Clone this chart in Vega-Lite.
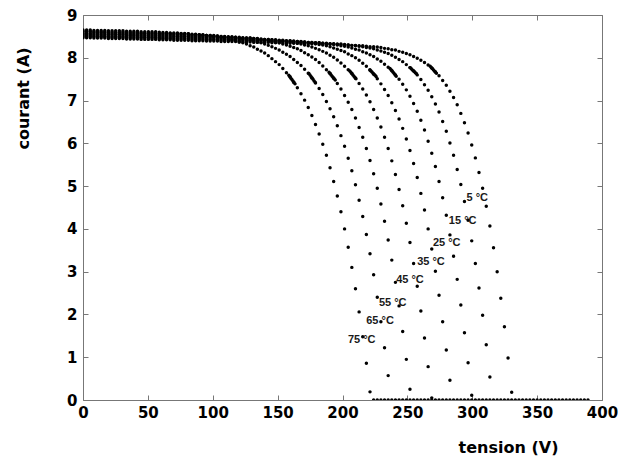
{
"$schema": "https://vega.github.io/schema/vega-lite/v6.json",
"width": 519, "height": 385,
"autosize": "none",
"padding": {"left": 83, "top": 15, "right": 16, "bottom": 58},
"background": "white",
"config": {"view": {"stroke": null}, "font": "DejaVu Sans"},
"layer": [
{
"data": {"values": [
{"T":5,"V":0,"I":8.47},{"T":5,"V":2.8,"I":8.47},{"T":5,"V":5.6,"I":8.47},{"T":5,"V":8.4,"I":8.46},{"T":5,"V":11.2,"I":8.46},{"T":5,"V":14,"I":8.46},{"T":5,"V":16.8,"I":8.46},{"T":5,"V":19.6,"I":8.45},{"T":5,"V":22.4,"I":8.45},{"T":5,"V":25.2,"I":8.45},{"T":5,"V":28,"I":8.45},{"T":5,"V":30.8,"I":8.45},{"T":5,"V":33.6,"I":8.44},{"T":5,"V":36.4,"I":8.44},{"T":5,"V":39.2,"I":8.44},{"T":5,"V":42,"I":8.44},{"T":5,"V":44.8,"I":8.43},{"T":5,"V":47.6,"I":8.43},{"T":5,"V":50.4,"I":8.43},{"T":5,"V":53.2,"I":8.43},{"T":5,"V":56,"I":8.43},{"T":5,"V":58.8,"I":8.42},{"T":5,"V":61.6,"I":8.42},{"T":5,"V":64.4,"I":8.42},{"T":5,"V":67.2,"I":8.42},{"T":5,"V":70,"I":8.41},{"T":5,"V":72.8,"I":8.41},{"T":5,"V":75.6,"I":8.41},{"T":5,"V":78.4,"I":8.41},{"T":5,"V":81.2,"I":8.41},{"T":5,"V":84,"I":8.40},{"T":5,"V":86.8,"I":8.40},{"T":5,"V":89.6,"I":8.40},{"T":5,"V":92.4,"I":8.40},{"T":5,"V":95.2,"I":8.39},{"T":5,"V":98,"I":8.39},{"T":5,"V":100.8,"I":8.39},{"T":5,"V":103.6,"I":8.39},{"T":5,"V":106.4,"I":8.38},{"T":5,"V":109.2,"I":8.38},{"T":5,"V":112,"I":8.38},{"T":5,"V":114.8,"I":8.38},{"T":5,"V":117.6,"I":8.38},{"T":5,"V":120.4,"I":8.37},{"T":5,"V":123.2,"I":8.37},{"T":5,"V":126,"I":8.37},{"T":5,"V":128.8,"I":8.37},{"T":5,"V":131.6,"I":8.36},{"T":5,"V":134.4,"I":8.36},{"T":5,"V":137.2,"I":8.36},{"T":5,"V":140,"I":8.36},{"T":5,"V":142.8,"I":8.36},{"T":5,"V":145.6,"I":8.35},{"T":5,"V":148.4,"I":8.35},{"T":5,"V":151.2,"I":8.35},{"T":5,"V":154,"I":8.35},{"T":5,"V":156.8,"I":8.34},{"T":5,"V":159.6,"I":8.34},{"T":5,"V":162.4,"I":8.34},{"T":5,"V":165.2,"I":8.34},{"T":5,"V":168,"I":8.34},{"T":5,"V":170.8,"I":8.33},{"T":5,"V":173.6,"I":8.33},{"T":5,"V":176.4,"I":8.33},{"T":5,"V":179.2,"I":8.33},{"T":5,"V":182,"I":8.32},{"T":5,"V":184.8,"I":8.32},{"T":5,"V":187.6,"I":8.32},{"T":5,"V":190.4,"I":8.32},{"T":5,"V":193.2,"I":8.32},{"T":5,"V":196,"I":8.31},
{"T":5,"V":198.8,"I":8.31},{"T":5,"V":201.6,"I":8.30},{"T":5,"V":204.4,"I":8.30},{"T":5,"V":207.2,"I":8.29},{"T":5,"V":210,"I":8.29},{"T":5,"V":212.8,"I":8.28},{"T":5,"V":215.6,"I":8.28},{"T":5,"V":218.4,"I":8.27},{"T":5,"V":221.2,"I":8.26},{"T":5,"V":224,"I":8.26},{"T":5,"V":226.8,"I":8.25},{"T":5,"V":229.6,"I":8.24},{"T":5,"V":232.4,"I":8.22},{"T":5,"V":235.2,"I":8.21},{"T":5,"V":238,"I":8.19},{"T":5,"V":240.8,"I":8.18},{"T":5,"V":243.6,"I":8.15},{"T":5,"V":246.4,"I":8.13},{"T":5,"V":249.2,"I":8.10},{"T":5,"V":252,"I":8.07},{"T":5,"V":254.8,"I":8.03},{"T":5,"V":257.6,"I":7.99},{"T":5,"V":260.4,"I":7.94},{"T":5,"V":263.2,"I":7.89},{"T":5,"V":266,"I":7.83},{"T":5,"V":268.8,"I":7.76},{"T":5,"V":271.6,"I":7.67},{"T":5,"V":274.4,"I":7.58},{"T":5,"V":277.2,"I":7.47},{"T":5,"V":280,"I":7.36},{"T":5,"V":282.8,"I":7.22},{"T":5,"V":285.6,"I":7.07},{"T":5,"V":288.4,"I":6.90},{"T":5,"V":291.2,"I":6.70},{"T":5,"V":294,"I":6.48},{"T":5,"V":296.8,"I":6.24},{"T":5,"V":299.6,"I":5.96},{"T":5,"V":302.4,"I":5.66},{"T":5,"V":305.2,"I":5.32},{"T":5,"V":308,"I":4.95},{"T":5,"V":310.8,"I":4.53},{"T":5,"V":313.6,"I":4.07},{"T":5,"V":316.4,"I":3.56},{"T":5,"V":319.2,"I":3.00},{"T":5,"V":322,"I":2.38},{"T":5,"V":324.8,"I":1.71},{"T":5,"V":327.6,"I":0.98},{"T":5,"V":330.4,"I":0.18},
{"T":5,"V":267.6,"I":7.80},{"T":5,"V":268.4,"I":7.77},{"T":5,"V":269.2,"I":7.75},{"T":5,"V":270,"I":7.72},{"T":5,"V":270.8,"I":7.69},{"T":5,"V":271.6,"I":7.67},{"T":5,"V":272.4,"I":7.64},
{"T":15,"V":0,"I":8.50},{"T":15,"V":2.8,"I":8.50},{"T":15,"V":5.6,"I":8.50},{"T":15,"V":8.4,"I":8.49},{"T":15,"V":11.2,"I":8.49},{"T":15,"V":14,"I":8.49},{"T":15,"V":16.8,"I":8.49},{"T":15,"V":19.6,"I":8.48},{"T":15,"V":22.4,"I":8.48},{"T":15,"V":25.2,"I":8.48},{"T":15,"V":28,"I":8.48},{"T":15,"V":30.8,"I":8.48},{"T":15,"V":33.6,"I":8.47},{"T":15,"V":36.4,"I":8.47},{"T":15,"V":39.2,"I":8.47},{"T":15,"V":42,"I":8.47},{"T":15,"V":44.8,"I":8.46},{"T":15,"V":47.6,"I":8.46},{"T":15,"V":50.4,"I":8.46},{"T":15,"V":53.2,"I":8.46},{"T":15,"V":56,"I":8.46},{"T":15,"V":58.8,"I":8.45},{"T":15,"V":61.6,"I":8.45},{"T":15,"V":64.4,"I":8.45},{"T":15,"V":67.2,"I":8.45},{"T":15,"V":70,"I":8.44},{"T":15,"V":72.8,"I":8.44},{"T":15,"V":75.6,"I":8.44},{"T":15,"V":78.4,"I":8.44},{"T":15,"V":81.2,"I":8.44},{"T":15,"V":84,"I":8.43},{"T":15,"V":86.8,"I":8.43},{"T":15,"V":89.6,"I":8.43},{"T":15,"V":92.4,"I":8.43},{"T":15,"V":95.2,"I":8.42},{"T":15,"V":98,"I":8.42},{"T":15,"V":100.8,"I":8.42},{"T":15,"V":103.6,"I":8.42},{"T":15,"V":106.4,"I":8.41},{"T":15,"V":109.2,"I":8.41},{"T":15,"V":112,"I":8.41},{"T":15,"V":114.8,"I":8.41},{"T":15,"V":117.6,"I":8.41},{"T":15,"V":120.4,"I":8.40},{"T":15,"V":123.2,"I":8.40},{"T":15,"V":126,"I":8.40},{"T":15,"V":128.8,"I":8.40},{"T":15,"V":131.6,"I":8.39},{"T":15,"V":134.4,"I":8.39},{"T":15,"V":137.2,"I":8.39},{"T":15,"V":140,"I":8.39},{"T":15,"V":142.8,"I":8.39},{"T":15,"V":145.6,"I":8.38},{"T":15,"V":148.4,"I":8.38},{"T":15,"V":151.2,"I":8.38},{"T":15,"V":154,"I":8.38},{"T":15,"V":156.8,"I":8.37},{"T":15,"V":159.6,"I":8.37},{"T":15,"V":162.4,"I":8.37},{"T":15,"V":165.2,"I":8.37},{"T":15,"V":168,"I":8.37},{"T":15,"V":170.8,"I":8.36},{"T":15,"V":173.6,"I":8.36},{"T":15,"V":176.4,"I":8.36},
{"T":15,"V":179.2,"I":8.35},{"T":15,"V":182,"I":8.35},{"T":15,"V":184.8,"I":8.34},{"T":15,"V":187.6,"I":8.34},{"T":15,"V":190.4,"I":8.33},{"T":15,"V":193.2,"I":8.33},{"T":15,"V":196,"I":8.32},{"T":15,"V":198.8,"I":8.32},{"T":15,"V":201.6,"I":8.31},{"T":15,"V":204.4,"I":8.30},{"T":15,"V":207.2,"I":8.29},{"T":15,"V":210,"I":8.28},{"T":15,"V":212.8,"I":8.27},{"T":15,"V":215.6,"I":8.26},{"T":15,"V":218.4,"I":8.24},{"T":15,"V":221.2,"I":8.23},{"T":15,"V":224,"I":8.21},{"T":15,"V":226.8,"I":8.18},{"T":15,"V":229.6,"I":8.16},{"T":15,"V":232.4,"I":8.13},{"T":15,"V":235.2,"I":8.10},{"T":15,"V":238,"I":8.06},{"T":15,"V":240.8,"I":8.01},{"T":15,"V":243.6,"I":7.96},{"T":15,"V":246.4,"I":7.91},{"T":15,"V":249.2,"I":7.84},{"T":15,"V":252,"I":7.77},{"T":15,"V":254.8,"I":7.69},{"T":15,"V":257.6,"I":7.60},{"T":15,"V":260.4,"I":7.49},{"T":15,"V":263.2,"I":7.37},{"T":15,"V":266,"I":7.24},{"T":15,"V":268.8,"I":7.09},{"T":15,"V":271.6,"I":6.92},{"T":15,"V":274.4,"I":6.73},{"T":15,"V":277.2,"I":6.51},{"T":15,"V":280,"I":6.28},{"T":15,"V":282.8,"I":6.01},{"T":15,"V":285.6,"I":5.72},{"T":15,"V":288.4,"I":5.39},{"T":15,"V":291.2,"I":5.04},{"T":15,"V":294,"I":4.64},{"T":15,"V":296.8,"I":4.20},{"T":15,"V":299.6,"I":3.72},{"T":15,"V":302.4,"I":3.19},{"T":15,"V":305.2,"I":2.62},{"T":15,"V":308,"I":1.98},{"T":15,"V":310.8,"I":1.29},{"T":15,"V":313.6,"I":0.54},
{"T":15,"V":252.1,"I":7.77},{"T":15,"V":252.9,"I":7.75},{"T":15,"V":253.7,"I":7.72},{"T":15,"V":254.5,"I":7.70},{"T":15,"V":255.3,"I":7.68},{"T":15,"V":256.1,"I":7.65},{"T":15,"V":256.9,"I":7.63},
{"T":25,"V":0,"I":8.52},{"T":25,"V":2.8,"I":8.52},{"T":25,"V":5.6,"I":8.52},{"T":25,"V":8.4,"I":8.51},{"T":25,"V":11.2,"I":8.51},{"T":25,"V":14,"I":8.51},{"T":25,"V":16.8,"I":8.51},{"T":25,"V":19.6,"I":8.50},{"T":25,"V":22.4,"I":8.50},{"T":25,"V":25.2,"I":8.50},{"T":25,"V":28,"I":8.50},{"T":25,"V":30.8,"I":8.50},{"T":25,"V":33.6,"I":8.49},{"T":25,"V":36.4,"I":8.49},{"T":25,"V":39.2,"I":8.49},{"T":25,"V":42,"I":8.49},{"T":25,"V":44.8,"I":8.48},{"T":25,"V":47.6,"I":8.48},{"T":25,"V":50.4,"I":8.48},{"T":25,"V":53.2,"I":8.48},{"T":25,"V":56,"I":8.48},{"T":25,"V":58.8,"I":8.47},{"T":25,"V":61.6,"I":8.47},{"T":25,"V":64.4,"I":8.47},{"T":25,"V":67.2,"I":8.47},{"T":25,"V":70,"I":8.46},{"T":25,"V":72.8,"I":8.46},{"T":25,"V":75.6,"I":8.46},{"T":25,"V":78.4,"I":8.46},{"T":25,"V":81.2,"I":8.46},{"T":25,"V":84,"I":8.45},{"T":25,"V":86.8,"I":8.45},{"T":25,"V":89.6,"I":8.45},{"T":25,"V":92.4,"I":8.45},{"T":25,"V":95.2,"I":8.44},{"T":25,"V":98,"I":8.44},{"T":25,"V":100.8,"I":8.44},{"T":25,"V":103.6,"I":8.44},{"T":25,"V":106.4,"I":8.43},{"T":25,"V":109.2,"I":8.43},{"T":25,"V":112,"I":8.43},{"T":25,"V":114.8,"I":8.43},{"T":25,"V":117.6,"I":8.43},{"T":25,"V":120.4,"I":8.42},{"T":25,"V":123.2,"I":8.42},{"T":25,"V":126,"I":8.42},{"T":25,"V":128.8,"I":8.42},{"T":25,"V":131.6,"I":8.41},{"T":25,"V":134.4,"I":8.41},{"T":25,"V":137.2,"I":8.41},{"T":25,"V":140,"I":8.41},{"T":25,"V":142.8,"I":8.41},{"T":25,"V":145.6,"I":8.40},{"T":25,"V":148.4,"I":8.40},{"T":25,"V":151.2,"I":8.40},{"T":25,"V":154,"I":8.40},{"T":25,"V":156.8,"I":8.39},{"T":25,"V":159.6,"I":8.39},
{"T":25,"V":162.4,"I":8.38},{"T":25,"V":165.2,"I":8.38},{"T":25,"V":168,"I":8.37},{"T":25,"V":170.8,"I":8.37},{"T":25,"V":173.6,"I":8.36},{"T":25,"V":176.4,"I":8.36},{"T":25,"V":179.2,"I":8.35},{"T":25,"V":182,"I":8.35},{"T":25,"V":184.8,"I":8.34},{"T":25,"V":187.6,"I":8.33},{"T":25,"V":190.4,"I":8.32},{"T":25,"V":193.2,"I":8.31},{"T":25,"V":196,"I":8.30},{"T":25,"V":198.8,"I":8.28},{"T":25,"V":201.6,"I":8.27},{"T":25,"V":204.4,"I":8.25},{"T":25,"V":207.2,"I":8.23},{"T":25,"V":210,"I":8.20},{"T":25,"V":212.8,"I":8.18},{"T":25,"V":215.6,"I":8.14},{"T":25,"V":218.4,"I":8.11},{"T":25,"V":221.2,"I":8.07},{"T":25,"V":224,"I":8.03},{"T":25,"V":226.8,"I":7.97},{"T":25,"V":229.6,"I":7.92},{"T":25,"V":232.4,"I":7.85},{"T":25,"V":235.2,"I":7.78},{"T":25,"V":238,"I":7.70},{"T":25,"V":240.8,"I":7.60},{"T":25,"V":243.6,"I":7.50},{"T":25,"V":246.4,"I":7.38},{"T":25,"V":249.2,"I":7.25},{"T":25,"V":252,"I":7.10},{"T":25,"V":254.8,"I":6.93},{"T":25,"V":257.6,"I":6.75},{"T":25,"V":260.4,"I":6.54},{"T":25,"V":263.2,"I":6.31},{"T":25,"V":266,"I":6.05},{"T":25,"V":268.8,"I":5.77},{"T":25,"V":271.6,"I":5.46},{"T":25,"V":274.4,"I":5.11},{"T":25,"V":277.2,"I":4.73},{"T":25,"V":280,"I":4.32},{"T":25,"V":282.8,"I":3.86},{"T":25,"V":285.6,"I":3.36},{"T":25,"V":288.4,"I":2.82},{"T":25,"V":291.2,"I":2.22},{"T":25,"V":294,"I":1.57},{"T":25,"V":296.8,"I":0.87},{"T":25,"V":299.6,"I":0.11},
{"T":25,"V":236.6,"I":7.75},{"T":25,"V":237.4,"I":7.72},{"T":25,"V":238.2,"I":7.69},{"T":25,"V":239,"I":7.66},{"T":25,"V":239.8,"I":7.63},{"T":25,"V":240.6,"I":7.60},{"T":25,"V":241.4,"I":7.57},
{"T":35,"V":0,"I":8.55},{"T":35,"V":2.8,"I":8.55},{"T":35,"V":5.6,"I":8.55},{"T":35,"V":8.4,"I":8.54},{"T":35,"V":11.2,"I":8.54},{"T":35,"V":14,"I":8.54},{"T":35,"V":16.8,"I":8.54},{"T":35,"V":19.6,"I":8.53},{"T":35,"V":22.4,"I":8.53},{"T":35,"V":25.2,"I":8.53},{"T":35,"V":28,"I":8.53},{"T":35,"V":30.8,"I":8.53},{"T":35,"V":33.6,"I":8.52},{"T":35,"V":36.4,"I":8.52},{"T":35,"V":39.2,"I":8.52},{"T":35,"V":42,"I":8.52},{"T":35,"V":44.8,"I":8.51},{"T":35,"V":47.6,"I":8.51},{"T":35,"V":50.4,"I":8.51},{"T":35,"V":53.2,"I":8.51},{"T":35,"V":56,"I":8.51},{"T":35,"V":58.8,"I":8.50},{"T":35,"V":61.6,"I":8.50},{"T":35,"V":64.4,"I":8.50},{"T":35,"V":67.2,"I":8.50},{"T":35,"V":70,"I":8.49},{"T":35,"V":72.8,"I":8.49},{"T":35,"V":75.6,"I":8.49},{"T":35,"V":78.4,"I":8.49},{"T":35,"V":81.2,"I":8.49},{"T":35,"V":84,"I":8.48},{"T":35,"V":86.8,"I":8.48},{"T":35,"V":89.6,"I":8.48},{"T":35,"V":92.4,"I":8.48},{"T":35,"V":95.2,"I":8.47},{"T":35,"V":98,"I":8.47},{"T":35,"V":100.8,"I":8.47},{"T":35,"V":103.6,"I":8.47},{"T":35,"V":106.4,"I":8.46},{"T":35,"V":109.2,"I":8.46},{"T":35,"V":112,"I":8.46},{"T":35,"V":114.8,"I":8.46},{"T":35,"V":117.6,"I":8.46},{"T":35,"V":120.4,"I":8.45},{"T":35,"V":123.2,"I":8.45},{"T":35,"V":126,"I":8.45},{"T":35,"V":128.8,"I":8.45},{"T":35,"V":131.6,"I":8.44},
{"T":35,"V":134.4,"I":8.44},{"T":35,"V":137.2,"I":8.43},{"T":35,"V":140,"I":8.43},{"T":35,"V":142.8,"I":8.43},{"T":35,"V":145.6,"I":8.42},{"T":35,"V":148.4,"I":8.42},{"T":35,"V":151.2,"I":8.41},{"T":35,"V":154,"I":8.41},{"T":35,"V":156.8,"I":8.40},{"T":35,"V":159.6,"I":8.40},{"T":35,"V":162.4,"I":8.39},{"T":35,"V":165.2,"I":8.38},{"T":35,"V":168,"I":8.38},{"T":35,"V":170.8,"I":8.37},{"T":35,"V":173.6,"I":8.35},{"T":35,"V":176.4,"I":8.34},{"T":35,"V":179.2,"I":8.33},{"T":35,"V":182,"I":8.31},{"T":35,"V":184.8,"I":8.30},{"T":35,"V":187.6,"I":8.28},{"T":35,"V":190.4,"I":8.26},{"T":35,"V":193.2,"I":8.23},{"T":35,"V":196,"I":8.20},{"T":35,"V":198.8,"I":8.17},{"T":35,"V":201.6,"I":8.14},{"T":35,"V":204.4,"I":8.09},{"T":35,"V":207.2,"I":8.05},{"T":35,"V":210,"I":8.00},{"T":35,"V":212.8,"I":7.94},{"T":35,"V":215.6,"I":7.87},{"T":35,"V":218.4,"I":7.80},{"T":35,"V":221.2,"I":7.71},{"T":35,"V":224,"I":7.62},{"T":35,"V":226.8,"I":7.51},{"T":35,"V":229.6,"I":7.39},{"T":35,"V":232.4,"I":7.26},{"T":35,"V":235.2,"I":7.12},{"T":35,"V":238,"I":6.95},{"T":35,"V":240.8,"I":6.77},{"T":35,"V":243.6,"I":6.57},{"T":35,"V":246.4,"I":6.35},{"T":35,"V":249.2,"I":6.10},{"T":35,"V":252,"I":5.83},{"T":35,"V":254.8,"I":5.53},{"T":35,"V":257.6,"I":5.20},{"T":35,"V":260.4,"I":4.83},{"T":35,"V":263.2,"I":4.44},{"T":35,"V":266,"I":4.00},{"T":35,"V":268.8,"I":3.53},{"T":35,"V":271.6,"I":3.01},{"T":35,"V":274.4,"I":2.45},{"T":35,"V":277.2,"I":1.83},{"T":35,"V":280,"I":1.17},{"T":35,"V":282.8,"I":0.46},
{"T":35,"V":221.1,"I":7.72},{"T":35,"V":221.9,"I":7.69},{"T":35,"V":222.7,"I":7.67},{"T":35,"V":223.5,"I":7.64},{"T":35,"V":224.3,"I":7.61},{"T":35,"V":225.1,"I":7.59},{"T":35,"V":225.9,"I":7.56},
{"T":45,"V":0,"I":8.57},{"T":45,"V":2.8,"I":8.57},{"T":45,"V":5.6,"I":8.57},{"T":45,"V":8.4,"I":8.56},{"T":45,"V":11.2,"I":8.56},{"T":45,"V":14,"I":8.56},{"T":45,"V":16.8,"I":8.56},{"T":45,"V":19.6,"I":8.55},{"T":45,"V":22.4,"I":8.55},{"T":45,"V":25.2,"I":8.55},{"T":45,"V":28,"I":8.55},{"T":45,"V":30.8,"I":8.55},{"T":45,"V":33.6,"I":8.54},{"T":45,"V":36.4,"I":8.54},{"T":45,"V":39.2,"I":8.54},{"T":45,"V":42,"I":8.54},{"T":45,"V":44.8,"I":8.53},{"T":45,"V":47.6,"I":8.53},{"T":45,"V":50.4,"I":8.53},{"T":45,"V":53.2,"I":8.53},{"T":45,"V":56,"I":8.53},{"T":45,"V":58.8,"I":8.52},{"T":45,"V":61.6,"I":8.52},{"T":45,"V":64.4,"I":8.52},{"T":45,"V":67.2,"I":8.52},{"T":45,"V":70,"I":8.51},{"T":45,"V":72.8,"I":8.51},{"T":45,"V":75.6,"I":8.51},{"T":45,"V":78.4,"I":8.51},{"T":45,"V":81.2,"I":8.51},{"T":45,"V":84,"I":8.50},{"T":45,"V":86.8,"I":8.50},{"T":45,"V":89.6,"I":8.50},{"T":45,"V":92.4,"I":8.50},{"T":45,"V":95.2,"I":8.49},{"T":45,"V":98,"I":8.49},{"T":45,"V":100.8,"I":8.49},{"T":45,"V":103.6,"I":8.49},{"T":45,"V":106.4,"I":8.48},{"T":45,"V":109.2,"I":8.48},{"T":45,"V":112,"I":8.48},{"T":45,"V":114.8,"I":8.48},{"T":45,"V":117.6,"I":8.48},{"T":45,"V":120.4,"I":8.47},
{"T":45,"V":123.2,"I":8.46},{"T":45,"V":126,"I":8.46},{"T":45,"V":128.8,"I":8.46},{"T":45,"V":131.6,"I":8.45},{"T":45,"V":134.4,"I":8.45},{"T":45,"V":137.2,"I":8.44},{"T":45,"V":140,"I":8.43},{"T":45,"V":142.8,"I":8.43},{"T":45,"V":145.6,"I":8.42},{"T":45,"V":148.4,"I":8.41},{"T":45,"V":151.2,"I":8.40},{"T":45,"V":154,"I":8.39},{"T":45,"V":156.8,"I":8.38},{"T":45,"V":159.6,"I":8.37},{"T":45,"V":162.4,"I":8.35},{"T":45,"V":165.2,"I":8.34},{"T":45,"V":168,"I":8.32},{"T":45,"V":170.8,"I":8.30},{"T":45,"V":173.6,"I":8.28},{"T":45,"V":176.4,"I":8.25},{"T":45,"V":179.2,"I":8.22},{"T":45,"V":182,"I":8.19},{"T":45,"V":184.8,"I":8.15},{"T":45,"V":187.6,"I":8.11},{"T":45,"V":190.4,"I":8.06},{"T":45,"V":193.2,"I":8.01},{"T":45,"V":196,"I":7.95},{"T":45,"V":198.8,"I":7.88},{"T":45,"V":201.6,"I":7.80},{"T":45,"V":204.4,"I":7.72},{"T":45,"V":207.2,"I":7.63},{"T":45,"V":210,"I":7.52},{"T":45,"V":212.8,"I":7.40},{"T":45,"V":215.6,"I":7.27},{"T":45,"V":218.4,"I":7.13},{"T":45,"V":221.2,"I":6.97},{"T":45,"V":224,"I":6.79},{"T":45,"V":226.8,"I":6.59},{"T":45,"V":229.6,"I":6.38},{"T":45,"V":232.4,"I":6.14},{"T":45,"V":235.2,"I":5.88},{"T":45,"V":238,"I":5.59},{"T":45,"V":240.8,"I":5.27},{"T":45,"V":243.6,"I":4.92},{"T":45,"V":246.4,"I":4.54},{"T":45,"V":249.2,"I":4.13},{"T":45,"V":252,"I":3.68},{"T":45,"V":254.8,"I":3.19},{"T":45,"V":257.6,"I":2.66},{"T":45,"V":260.4,"I":2.08},{"T":45,"V":263.2,"I":1.45},{"T":45,"V":266,"I":0.78},{"T":45,"V":268.8,"I":0.05},
{"T":45,"V":205.6,"I":7.69},{"T":45,"V":206.4,"I":7.66},{"T":45,"V":207.2,"I":7.63},{"T":45,"V":208,"I":7.60},{"T":45,"V":208.8,"I":7.57},{"T":45,"V":209.6,"I":7.54},{"T":45,"V":210.4,"I":7.51},
{"T":55,"V":0,"I":8.60},{"T":55,"V":2.8,"I":8.60},{"T":55,"V":5.6,"I":8.60},{"T":55,"V":8.4,"I":8.59},{"T":55,"V":11.2,"I":8.59},{"T":55,"V":14,"I":8.59},{"T":55,"V":16.8,"I":8.59},{"T":55,"V":19.6,"I":8.58},{"T":55,"V":22.4,"I":8.58},{"T":55,"V":25.2,"I":8.58},{"T":55,"V":28,"I":8.58},{"T":55,"V":30.8,"I":8.58},{"T":55,"V":33.6,"I":8.57},{"T":55,"V":36.4,"I":8.57},{"T":55,"V":39.2,"I":8.57},{"T":55,"V":42,"I":8.57},{"T":55,"V":44.8,"I":8.56},{"T":55,"V":47.6,"I":8.56},{"T":55,"V":50.4,"I":8.56},{"T":55,"V":53.2,"I":8.56},{"T":55,"V":56,"I":8.56},{"T":55,"V":58.8,"I":8.55},{"T":55,"V":61.6,"I":8.55},{"T":55,"V":64.4,"I":8.55},{"T":55,"V":67.2,"I":8.55},{"T":55,"V":70,"I":8.54},{"T":55,"V":72.8,"I":8.54},{"T":55,"V":75.6,"I":8.54},{"T":55,"V":78.4,"I":8.54},{"T":55,"V":81.2,"I":8.54},{"T":55,"V":84,"I":8.53},{"T":55,"V":86.8,"I":8.53},{"T":55,"V":89.6,"I":8.53},{"T":55,"V":92.4,"I":8.53},{"T":55,"V":95.2,"I":8.52},{"T":55,"V":98,"I":8.52},{"T":55,"V":100.8,"I":8.52},
{"T":55,"V":103.6,"I":8.51},{"T":55,"V":106.4,"I":8.50},{"T":55,"V":109.2,"I":8.50},{"T":55,"V":112,"I":8.49},{"T":55,"V":114.8,"I":8.49},{"T":55,"V":117.6,"I":8.48},{"T":55,"V":120.4,"I":8.48},{"T":55,"V":123.2,"I":8.47},{"T":55,"V":126,"I":8.46},{"T":55,"V":128.8,"I":8.46},{"T":55,"V":131.6,"I":8.45},{"T":55,"V":134.4,"I":8.44},{"T":55,"V":137.2,"I":8.43},{"T":55,"V":140,"I":8.41},{"T":55,"V":142.8,"I":8.40},{"T":55,"V":145.6,"I":8.38},{"T":55,"V":148.4,"I":8.37},{"T":55,"V":151.2,"I":8.35},{"T":55,"V":154,"I":8.32},{"T":55,"V":156.8,"I":8.30},{"T":55,"V":159.6,"I":8.27},{"T":55,"V":162.4,"I":8.24},{"T":55,"V":165.2,"I":8.21},{"T":55,"V":168,"I":8.17},{"T":55,"V":170.8,"I":8.12},{"T":55,"V":173.6,"I":8.07},{"T":55,"V":176.4,"I":8.02},{"T":55,"V":179.2,"I":7.96},{"T":55,"V":182,"I":7.89},{"T":55,"V":184.8,"I":7.81},{"T":55,"V":187.6,"I":7.72},{"T":55,"V":190.4,"I":7.63},{"T":55,"V":193.2,"I":7.52},{"T":55,"V":196,"I":7.40},{"T":55,"V":198.8,"I":7.27},{"T":55,"V":201.6,"I":7.12},{"T":55,"V":204.4,"I":6.96},{"T":55,"V":207.2,"I":6.79},{"T":55,"V":210,"I":6.59},{"T":55,"V":212.8,"I":6.37},{"T":55,"V":215.6,"I":6.14},{"T":55,"V":218.4,"I":5.88},{"T":55,"V":221.2,"I":5.60},{"T":55,"V":224,"I":5.29},{"T":55,"V":226.8,"I":4.95},{"T":55,"V":229.6,"I":4.58},{"T":55,"V":232.4,"I":4.18},{"T":55,"V":235.2,"I":3.74},{"T":55,"V":238,"I":3.27},{"T":55,"V":240.8,"I":2.75},{"T":55,"V":243.6,"I":2.20},{"T":55,"V":246.4,"I":1.60},{"T":55,"V":249.2,"I":0.95},{"T":55,"V":252,"I":0.25},
{"T":55,"V":189.6,"I":7.66},{"T":55,"V":190.4,"I":7.63},{"T":55,"V":191.2,"I":7.60},{"T":55,"V":192,"I":7.57},{"T":55,"V":192.8,"I":7.54},{"T":55,"V":193.6,"I":7.51},{"T":55,"V":194.4,"I":7.48},
{"T":65,"V":0,"I":8.62},{"T":65,"V":2.8,"I":8.62},{"T":65,"V":5.6,"I":8.62},{"T":65,"V":8.4,"I":8.61},{"T":65,"V":11.2,"I":8.61},{"T":65,"V":14,"I":8.61},{"T":65,"V":16.8,"I":8.61},{"T":65,"V":19.6,"I":8.60},{"T":65,"V":22.4,"I":8.60},{"T":65,"V":25.2,"I":8.60},{"T":65,"V":28,"I":8.60},{"T":65,"V":30.8,"I":8.60},{"T":65,"V":33.6,"I":8.59},{"T":65,"V":36.4,"I":8.59},{"T":65,"V":39.2,"I":8.59},{"T":65,"V":42,"I":8.59},{"T":65,"V":44.8,"I":8.58},{"T":65,"V":47.6,"I":8.58},{"T":65,"V":50.4,"I":8.58},{"T":65,"V":53.2,"I":8.58},{"T":65,"V":56,"I":8.58},{"T":65,"V":58.8,"I":8.57},{"T":65,"V":61.6,"I":8.57},{"T":65,"V":64.4,"I":8.57},{"T":65,"V":67.2,"I":8.57},{"T":65,"V":70,"I":8.56},{"T":65,"V":72.8,"I":8.56},{"T":65,"V":75.6,"I":8.56},{"T":65,"V":78.4,"I":8.56},{"T":65,"V":81.2,"I":8.56},
{"T":65,"V":84,"I":8.54},{"T":65,"V":86.8,"I":8.54},{"T":65,"V":89.6,"I":8.54},{"T":65,"V":92.4,"I":8.53},{"T":65,"V":95.2,"I":8.52},{"T":65,"V":98,"I":8.52},{"T":65,"V":100.8,"I":8.51},{"T":65,"V":103.6,"I":8.51},{"T":65,"V":106.4,"I":8.50},{"T":65,"V":109.2,"I":8.49},{"T":65,"V":112,"I":8.48},{"T":65,"V":114.8,"I":8.47},{"T":65,"V":117.6,"I":8.46},{"T":65,"V":120.4,"I":8.45},{"T":65,"V":123.2,"I":8.44},{"T":65,"V":126,"I":8.42},{"T":65,"V":128.8,"I":8.41},{"T":65,"V":131.6,"I":8.39},{"T":65,"V":134.4,"I":8.37},{"T":65,"V":137.2,"I":8.35},{"T":65,"V":140,"I":8.32},{"T":65,"V":142.8,"I":8.29},{"T":65,"V":145.6,"I":8.26},{"T":65,"V":148.4,"I":8.22},{"T":65,"V":151.2,"I":8.18},{"T":65,"V":154,"I":8.13},{"T":65,"V":156.8,"I":8.08},{"T":65,"V":159.6,"I":8.03},{"T":65,"V":162.4,"I":7.96},{"T":65,"V":165.2,"I":7.89},{"T":65,"V":168,"I":7.82},{"T":65,"V":170.8,"I":7.73},{"T":65,"V":173.6,"I":7.64},{"T":65,"V":176.4,"I":7.53},{"T":65,"V":179.2,"I":7.41},{"T":65,"V":182,"I":7.28},{"T":65,"V":184.8,"I":7.14},{"T":65,"V":187.6,"I":6.98},{"T":65,"V":190.4,"I":6.81},{"T":65,"V":193.2,"I":6.62},{"T":65,"V":196,"I":6.41},{"T":65,"V":198.8,"I":6.18},{"T":65,"V":201.6,"I":5.93},{"T":65,"V":204.4,"I":5.65},{"T":65,"V":207.2,"I":5.36},{"T":65,"V":210,"I":5.03},{"T":65,"V":212.8,"I":4.67},{"T":65,"V":215.6,"I":4.29},{"T":65,"V":218.4,"I":3.87},{"T":65,"V":221.2,"I":3.42},{"T":65,"V":224,"I":2.93},{"T":65,"V":226.8,"I":2.40},{"T":65,"V":229.6,"I":1.83},{"T":65,"V":232.4,"I":1.22},{"T":65,"V":235.2,"I":0.57},
{"T":65,"V":174.1,"I":7.63},{"T":65,"V":174.9,"I":7.60},{"T":65,"V":175.7,"I":7.56},{"T":65,"V":176.5,"I":7.53},{"T":65,"V":177.3,"I":7.50},{"T":65,"V":178.1,"I":7.46},{"T":65,"V":178.9,"I":7.43},
{"T":75,"V":0,"I":8.65},{"T":75,"V":2.8,"I":8.65},{"T":75,"V":5.6,"I":8.65},{"T":75,"V":8.4,"I":8.64},{"T":75,"V":11.2,"I":8.64},{"T":75,"V":14,"I":8.64},{"T":75,"V":16.8,"I":8.64},{"T":75,"V":19.6,"I":8.63},{"T":75,"V":22.4,"I":8.63},{"T":75,"V":25.2,"I":8.63},{"T":75,"V":28,"I":8.63},{"T":75,"V":30.8,"I":8.63},{"T":75,"V":33.6,"I":8.62},{"T":75,"V":36.4,"I":8.62},{"T":75,"V":39.2,"I":8.62},{"T":75,"V":42,"I":8.62},{"T":75,"V":44.8,"I":8.61},{"T":75,"V":47.6,"I":8.61},{"T":75,"V":50.4,"I":8.61},{"T":75,"V":53.2,"I":8.61},{"T":75,"V":56,"I":8.61},{"T":75,"V":58.8,"I":8.60},
{"T":75,"V":61.6,"I":8.59},{"T":75,"V":64.4,"I":8.59},{"T":75,"V":67.2,"I":8.58},{"T":75,"V":70,"I":8.58},{"T":75,"V":72.8,"I":8.58},{"T":75,"V":75.6,"I":8.57},{"T":75,"V":78.4,"I":8.57},{"T":75,"V":81.2,"I":8.56},{"T":75,"V":84,"I":8.55},{"T":75,"V":86.8,"I":8.55},{"T":75,"V":89.6,"I":8.54},{"T":75,"V":92.4,"I":8.53},{"T":75,"V":95.2,"I":8.52},{"T":75,"V":98,"I":8.51},{"T":75,"V":100.8,"I":8.50},{"T":75,"V":103.6,"I":8.49},{"T":75,"V":106.4,"I":8.47},{"T":75,"V":109.2,"I":8.46},{"T":75,"V":112,"I":8.44},{"T":75,"V":114.8,"I":8.42},{"T":75,"V":117.6,"I":8.40},{"T":75,"V":120.4,"I":8.37},{"T":75,"V":123.2,"I":8.35},{"T":75,"V":126,"I":8.32},{"T":75,"V":128.8,"I":8.28},{"T":75,"V":131.6,"I":8.25},{"T":75,"V":134.4,"I":8.20},{"T":75,"V":137.2,"I":8.16},{"T":75,"V":140,"I":8.11},{"T":75,"V":142.8,"I":8.05},{"T":75,"V":145.6,"I":7.98},{"T":75,"V":148.4,"I":7.91},{"T":75,"V":151.2,"I":7.84},{"T":75,"V":154,"I":7.75},{"T":75,"V":156.8,"I":7.65},{"T":75,"V":159.6,"I":7.55},{"T":75,"V":162.4,"I":7.43},{"T":75,"V":165.2,"I":7.30},{"T":75,"V":168,"I":7.16},{"T":75,"V":170.8,"I":7.01},{"T":75,"V":173.6,"I":6.84},{"T":75,"V":176.4,"I":6.65},{"T":75,"V":179.2,"I":6.44},{"T":75,"V":182,"I":6.22},{"T":75,"V":184.8,"I":5.98},{"T":75,"V":187.6,"I":5.72},{"T":75,"V":190.4,"I":5.43},{"T":75,"V":193.2,"I":5.11},{"T":75,"V":196,"I":4.77},{"T":75,"V":198.8,"I":4.40},{"T":75,"V":201.6,"I":4.00},{"T":75,"V":204.4,"I":3.57},{"T":75,"V":207.2,"I":3.10},{"T":75,"V":210,"I":2.60},{"T":75,"V":212.8,"I":2.06},{"T":75,"V":215.6,"I":1.48},{"T":75,"V":218.4,"I":0.86},{"T":75,"V":221.2,"I":0.19},
{"T":75,"V":158.6,"I":7.59},{"T":75,"V":159.4,"I":7.56},{"T":75,"V":160.2,"I":7.52},{"T":75,"V":161,"I":7.49},{"T":75,"V":161.8,"I":7.46},{"T":75,"V":162.6,"I":7.42},{"T":75,"V":163.4,"I":7.39},
{"T":75,"V":224,"I":0},{"T":75,"V":226.8,"I":0},{"T":75,"V":229.6,"I":0},{"T":75,"V":232.4,"I":0},{"T":75,"V":235.2,"I":0},{"T":75,"V":238,"I":0},{"T":75,"V":240.8,"I":0},{"T":75,"V":243.6,"I":0},{"T":75,"V":246.4,"I":0},{"T":75,"V":249.2,"I":0},{"T":75,"V":252,"I":0},{"T":75,"V":254.8,"I":0},{"T":75,"V":257.6,"I":0},{"T":75,"V":260.4,"I":0},{"T":75,"V":263.2,"I":0},{"T":75,"V":266,"I":0},{"T":75,"V":268.8,"I":0},{"T":75,"V":271.6,"I":0},{"T":75,"V":274.4,"I":0},{"T":75,"V":277.2,"I":0},{"T":75,"V":280,"I":0},{"T":75,"V":282.8,"I":0},{"T":75,"V":285.6,"I":0},{"T":75,"V":288.4,"I":0},{"T":75,"V":291.2,"I":0},{"T":75,"V":294,"I":0},{"T":75,"V":296.8,"I":0},{"T":75,"V":299.6,"I":0},{"T":75,"V":302.4,"I":0},{"T":75,"V":305.2,"I":0},{"T":75,"V":308,"I":0},{"T":75,"V":310.8,"I":0},{"T":75,"V":313.6,"I":0},{"T":75,"V":316.4,"I":0},{"T":75,"V":319.2,"I":0},{"T":75,"V":322,"I":0},{"T":75,"V":324.8,"I":0},{"T":75,"V":327.6,"I":0},{"T":75,"V":330.4,"I":0},{"T":75,"V":333.2,"I":0},{"T":75,"V":336,"I":0},{"T":75,"V":338.8,"I":0},{"T":75,"V":341.6,"I":0},{"T":75,"V":344.4,"I":0},{"T":75,"V":347.2,"I":0},{"T":75,"V":350,"I":0},{"T":75,"V":352.8,"I":0},{"T":75,"V":355.6,"I":0},{"T":75,"V":358.4,"I":0},{"T":75,"V":361.2,"I":0},{"T":75,"V":364,"I":0},{"T":75,"V":366.8,"I":0},{"T":75,"V":369.6,"I":0},{"T":75,"V":372.4,"I":0},{"T":75,"V":375.2,"I":0},{"T":75,"V":378,"I":0},{"T":75,"V":380.8,"I":0},{"T":75,"V":383.6,"I":0},{"T":75,"V":386.4,"I":0},{"T":75,"V":389.2,"I":0}
]},
"mark": {"type": "point", "filled": true, "shape": "circle", "size": 12, "color": "black", "opacity": 1, "clip": true},
"encoding": {
"x": {"field": "V", "type": "quantitative", "scale": {"domain": [0, 400], "nice": false, "zero": false},
"axis": {"title": "tension (V)", "values": [0,50,100,150,200,250,300,350,400], "grid": false, "tickSize": -5, "tickColor": "#777", "domainColor": "#777", "labelPadding": 10, "labelFlush": false, "labelOverlap": false, "labelBound": false, "labelFont": "DejaVu Sans", "labelFontSize": 15, "labelFontWeight": "bold", "labelColor": "black", "titleFont": "DejaVu Sans", "titleFontSize": 16, "titleFontWeight": "bold", "titleColor": "black", "titleX": 425, "titleY": 47, "titleAlign": "center", "titleBaseline": "middle", "titleAnchor": null}},
"y": {"field": "I", "type": "quantitative", "scale": {"domain": [0, 9], "nice": false, "zero": false},
"axis": {"title": "courant (A)", "values": [0,1,2,3,4,5,6,7,8,9], "grid": false, "tickSize": -5, "tickColor": "#777", "domainColor": "#777", "labelPadding": 11, "labelFlush": false, "labelOverlap": false, "labelBound": false, "labelFont": "DejaVu Sans", "labelFontSize": 15, "labelFontWeight": "bold", "labelColor": "black", "titleFont": "DejaVu Sans", "titleFontSize": 16, "titleFontWeight": "bold", "titleColor": "black", "titleX": -60, "titleY": 83, "titleAlign": "center", "titleBaseline": "middle", "titleAnchor": null, "titleAngle": -90}}
}
},
{
"data": {"values": [
{"V":303.9,"I":4.73,"t":"5 °C"},
{"V":292.6,"I":4.19,"t":"15 °C"},
{"V":280.3,"I":3.66,"t":"25 °C"},
{"V":268.2,"I":3.23,"t":"35 °C"},
{"V":252,"I":2.80,"t":"45 °C"},
{"V":238.7,"I":2.27,"t":"55 °C"},
{"V":228.9,"I":1.85,"t":"65 °C"},
{"V":214.8,"I":1.40,"t":"75 °C"}
]},
"mark": {"type": "text", "font": "Liberation Sans", "fontSize": 11, "fontWeight": "bold", "color": "#1a1a1a", "align": "center", "baseline": "middle"},
"encoding": {
"x": {"field": "V", "type": "quantitative", "axis": {"orient": "top", "title": null, "labels": false, "values": [0,50,100,150,200,250,300,350,400], "grid": false, "tickSize": -5, "tickColor": "#777", "domainColor": "#777"}},
"y": {"field": "I", "type": "quantitative", "axis": {"orient": "right", "title": null, "labels": false, "values": [0,1,2,3,4,5,6,7,8,9], "grid": false, "tickSize": -5, "tickColor": "#777", "domainColor": "#777"}},
"text": {"field": "t"}
}
}
],
"resolve": {"axis": {"x": "independent", "y": "independent"}}
}
